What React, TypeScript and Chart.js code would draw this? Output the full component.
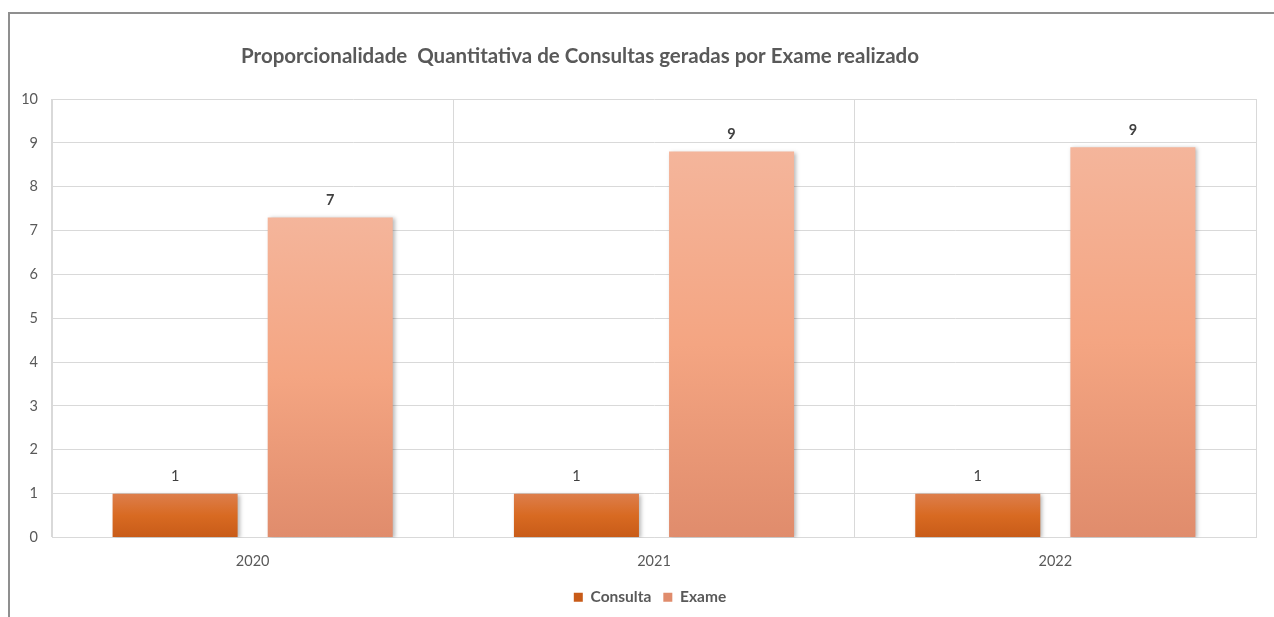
import React, { useEffect, useRef } from "react";
import { Chart, registerables } from "chart.js";

Chart.register(...registerables);

const categories = ["2020", "2021", "2022"];
const consultaValues = [1, 1, 1];
const exameValues = [7.3, 8.8, 8.9];
const seriesNames = ["Consulta", "Exame"];
const titleText = "Proporcionalidade  Quantitativa de Consultas geradas por Exame realizado";
const yMin = 0;
const yMax = 10;
const yStep = 1;

const FONT = "Lato, 'Noto Sans', sans-serif";
const TEXT = "#595959";
const GRID = "#d9d9d9";

const consultaStops = ["#DD7E4C", "#D86A22", "#C85B18"];
const exameStops = ["#F4B59B", "#F4A582", "#E08C6C"];

function gradientFill(stops: string[], solid: string) {
  return (ctx: any) => {
    const chart = ctx.chart;
    if (ctx.type !== "data" || !chart.chartArea) return solid;
    const y = chart.scales.y;
    const top = y.getPixelForValue(ctx.raw);
    const bottom = y.getPixelForValue(0);
    if (!isFinite(top) || !isFinite(bottom) || top === bottom) return solid;
    const g = chart.ctx.createLinearGradient(0, top, 0, bottom);
    g.addColorStop(0, stops[0]);
    g.addColorStop(0.5, stops[1]);
    g.addColorStop(1, stops[2]);
    return g;
  };
}

const shadowPlugin = {
  id: "barShadow",
  beforeDatasetsDraw(chart: any) {
    const c = chart.ctx;
    c.save();
    c.shadowColor = "rgba(0,0,0,0.28)";
    c.shadowBlur = 4;
    c.shadowOffsetX = 2;
    c.shadowOffsetY = 1;
  },
  afterDatasetsDraw(chart: any) {
    chart.ctx.restore();
  },
};

const labelsPlugin = {
  id: "valueLabels",
  afterDatasetsDraw(chart: any) {
    const c = chart.ctx;
    c.save();
    c.textAlign = "center";
    c.textBaseline = "middle";
    c.fillStyle = "#404040";
    chart.data.datasets.forEach((ds: any, di: number) => {
      const meta = chart.getDatasetMeta(di);
      c.font = `${di === 1 ? "bold " : ""}14.5px ${FONT}`;
      meta.data.forEach((el: any, i: number) => {
        const v = ds.data[i];
        c.fillText(String(Math.round(v)), el.x, el.y - 17);
      });
    });
    c.restore();
  },
};

const titlePlugin = {
  id: "customTitle",
  afterDraw(chart: any) {
    const c = chart.ctx;
    c.save();
    c.font = `bold 20.5px ${FONT}`;
    c.fillStyle = TEXT;
    c.textAlign = "center";
    c.textBaseline = "middle";
    c.fillText(titleText, 570, 42);
    c.restore();
  },
};

// centre the legend on the whole canvas rather than on the padded area
const legendShiftPlugin = {
  id: "legendShift",
  afterLayout(chart: any) {
    const lg = chart.legend;
    if (!lg) return;
    const shift = (chart.width - (lg.left + lg.right)) / 2;
    lg.left += shift;
    lg.right += shift;
  },
};

export default function App() {
  const ref = useRef<HTMLCanvasElement>(null);

  useEffect(() => {
    if (!ref.current) return;
    const chart = new Chart(ref.current, {
      type: "bar",
      data: {
        labels: categories,
        datasets: [
          {
            label: seriesNames[0],
            data: consultaValues,
            backgroundColor: gradientFill(consultaStops, "#D0641E"),
            borderWidth: 0,
            barPercentage: 0.806,
            categoryPercentage: 0.773,
          },
          {
            label: seriesNames[1],
            data: exameValues,
            backgroundColor: gradientFill(exameStops, "#F4AA8A"),
            borderWidth: 0,
            barPercentage: 0.806,
            categoryPercentage: 0.773,
          },
        ],
      },
      options: {
        responsive: false,
        animation: false,
        layout: { padding: { top: 85, right: 34, left: 0, bottom: 2 } },
        scales: {
          x: {
            offset: true,
            grid: { color: GRID, drawTicks: false, offset: true },
            border: { color: GRID },
            ticks: { color: TEXT, font: { family: FONT, size: 14.5 }, padding: 15 },
            afterFit: (s: any) => {
              s.height = 40;
            },
          },
          y: {
            min: yMin,
            max: yMax,
            grid: { color: GRID, drawTicks: false },
            border: { color: GRID },
            ticks: { stepSize: yStep, color: TEXT, font: { family: FONT, size: 14.5 }, padding: 14 },
            afterFit: (s: any) => {
              s.width = 42;
            },
          },
        },
        plugins: {
          title: { display: false },
          tooltip: { enabled: false },
          legend: {
            position: "bottom",
            labels: {
              boxWidth: 9,
              boxHeight: 9,
              padding: 12,
              color: TEXT,
              font: { family: FONT, size: 15.5, weight: "bold" },
            },
          },
        },
      },
      plugins: [shadowPlugin, labelsPlugin, titlePlugin, legendShiftPlugin],
    });
    return () => chart.destroy();
  }, []);

  return (
    <div style={{ position: "fixed", inset: 0, overflow: "hidden", background: "#fff" }}>
      <div
        style={{
          position: "absolute",
          left: 8,
          top: 12,
          width: 1400,
          height: 700,
          borderLeft: "2px solid #8f8f8f",
          borderTop: "2px solid #8f8f8f",
        }}
      >
        <canvas ref={ref} width={1280} height={603} style={{ display: "block", width: 1280, height: 603 }} />
      </div>
    </div>
  );
}
